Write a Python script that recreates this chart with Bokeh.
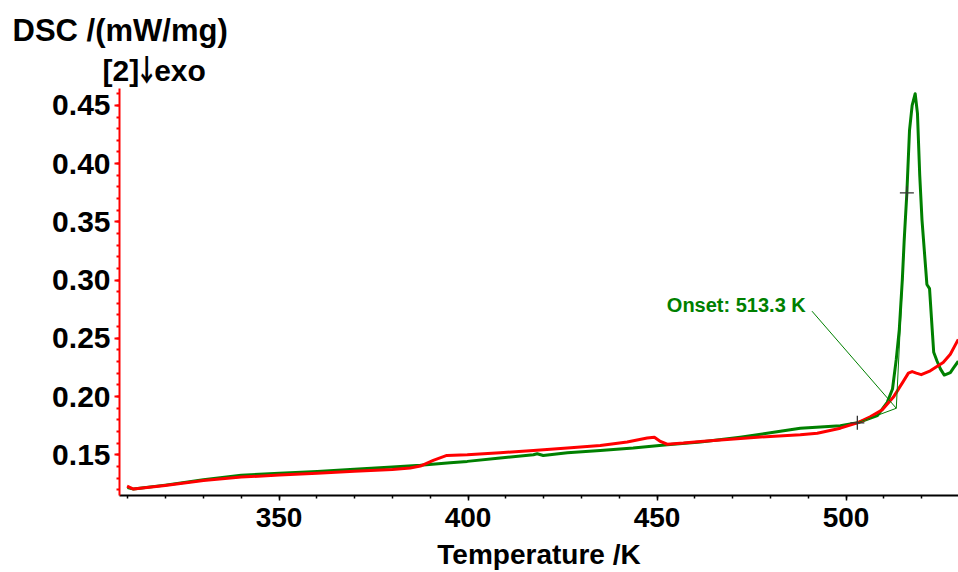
from bokeh.plotting import figure
from bokeh.models import Range1d, Label, FixedTicker, PrintfTickFormatter, Title
from bokeh.embed import file_html
from bokeh.resources import INLINE

# ---- data (Temperature / K, DSC / (mW/mg)) ----
green_T = [309.9, 311.5, 319.9, 330.0, 340.0, 350.1, 360.1, 369.9, 380.0, 387.4,
           395.3, 399.8, 408.5, 417.3, 418.3, 419.9, 426.3, 435.0, 443.7, 452.7,
           461.5, 472.0, 480.0, 487.9, 498.5, 503.0, 508.3, 510.9, 512.3, 513.3,
           514.1, 514.9, 515.4, 516.1, 516.8, 517.5, 518.3, 518.9, 519.5, 520.1,
           521.0, 521.4, 522.1, 522.8, 523.2, 524.1, 525.0, 526.0, 527.6, 528.4, 529.7]
green_dsc = [0.1218, 0.1205, 0.1239, 0.1286, 0.1323, 0.1342, 0.1357, 0.1376, 0.1395, 0.1409,
             0.1432, 0.1443, 0.1472, 0.1500, 0.1509, 0.1494, 0.1517, 0.1537, 0.1557, 0.1585,
             0.1609, 0.1651, 0.1688, 0.1728, 0.1750, 0.1774, 0.1836, 0.1950, 0.2064, 0.2321,
             0.2577, 0.3004, 0.3346, 0.3748, 0.4286, 0.4500, 0.4600, 0.4432, 0.3902, 0.3517,
             0.3132, 0.2962, 0.2927, 0.2577, 0.2380, 0.2303, 0.2235, 0.2184, 0.2205, 0.2244, 0.2303]

red_T = [309.8, 311.5, 319.9, 330.0, 340.0, 350.1, 360.1, 369.9, 380.0, 384.7,
         387.4, 390.8, 394.4, 399.8, 408.5, 417.3, 426.3, 435.0, 442.1, 447.4,
         449.3, 450.9, 452.7, 457.0, 461.5, 476.5, 487.9, 492.4, 498.5, 503.0,
         506.4, 509.6, 512.5, 515.2, 516.5, 517.5, 518.6, 519.9, 522.3, 525.7, 527.6, 529.7]
red_dsc = [0.1231, 0.1205, 0.1235, 0.1278, 0.1308, 0.1325, 0.1342, 0.1359, 0.1374, 0.1386,
           0.1403, 0.1451, 0.1494, 0.1500, 0.1517, 0.1537, 0.1557, 0.1579, 0.1609, 0.1643,
           0.1651, 0.1614, 0.1590, 0.1600, 0.1614, 0.1651, 0.1671, 0.1685, 0.1728, 0.1774,
           0.1825, 0.1887, 0.1993, 0.2132, 0.2201, 0.2214, 0.2201, 0.2188, 0.2221, 0.2292, 0.2363, 0.2491]

# onset evaluation (green curve)
onset_T = 513.3
onset_dsc = 0.1899
baseline_pt_T = 503.0
baseline_pt_dsc = 0.1774
inflection_T = 516.1
inflection_dsc = 0.3748
onset_text = "Onset: 513.3 K"
onset_text_T = 452.6
onset_text_dsc = 0.2782
leader_T = 491.0
leader_dsc = 0.2733

x_major = [350, 400, 450, 500]
x_minor = [310, 320, 330, 340, 350, 360, 370, 380, 390, 400, 410, 420, 430, 440,
           450, 460, 470, 480, 490, 500, 510, 520]
y_major = [0.15, 0.20, 0.25, 0.30, 0.35, 0.40, 0.45]
y_minor = [0.12, 0.13, 0.14, 0.15, 0.16, 0.17, 0.18, 0.19, 0.20, 0.21, 0.22, 0.23,
           0.24, 0.25, 0.26, 0.27, 0.28, 0.29, 0.30, 0.31, 0.32, 0.33, 0.34, 0.35,
           0.36, 0.37, 0.38, 0.39, 0.40, 0.41, 0.42, 0.43, 0.44, 0.45, 0.46]

GREEN = "#008000"
RED = "#ff0000"
FONT = "Liberation Sans"

p = figure(width=958, height=572, output_backend="svg", toolbar_location=None, title=None,
           x_range=Range1d(307.8, 529.76), y_range=Range1d(0.115, 0.4645),
           min_border_left=119, min_border_right=0, min_border_top=88, min_border_bottom=75)
p.background_fill_color = "white"
p.border_fill_color = "white"
p.outline_line_color = None
p.grid.visible = False

# y axis (red)
ya = p.yaxis[0]
ya.ticker = FixedTicker(ticks=y_major, minor_ticks=y_minor)
ya.formatter = PrintfTickFormatter(format="%.2f")
ya.axis_line_color = RED
ya.axis_line_width = 2
ya.major_tick_line_color = RED
ya.minor_tick_line_color = RED
ya.major_tick_line_width = 2
ya.minor_tick_line_width = 2
ya.major_tick_in = 0
ya.major_tick_out = 5
ya.minor_tick_in = 0
ya.minor_tick_out = 3
ya.major_label_standoff = 4
ya.major_label_text_font = FONT
ya.major_label_text_font_size = "30px"
ya.major_label_text_font_style = "bold"
ya.major_label_text_color = "black"

# x axis (black)
xa = p.xaxis[0]
xa.ticker = FixedTicker(ticks=x_major, minor_ticks=x_minor)
xa.axis_line_color = "black"
xa.axis_line_width = 2
xa.major_tick_line_color = "black"
xa.minor_tick_line_color = "black"
xa.major_tick_line_width = 1.5
xa.minor_tick_line_width = 1.5
xa.major_tick_in = 0
xa.major_tick_out = 5
xa.minor_tick_in = 0
xa.minor_tick_out = 3
xa.major_label_standoff = 7
xa.major_label_text_font = FONT
xa.major_label_text_font_size = "28px"
xa.major_label_text_font_style = "bold"
xa.major_label_text_color = "black"
xa.axis_label = "Temperature /K"
xa.axis_label_text_font = FONT
xa.axis_label_text_font_size = "28px"
xa.axis_label_text_font_style = "bold"
xa.axis_label_text_color = "black"
xa.axis_label_standoff = 9

# curves
p.line(green_T, green_dsc, line_color=GREEN, line_width=3, line_join="round")
p.line(red_T, red_dsc, line_color=RED, line_width=3, line_join="round")

# onset construction lines
p.line([baseline_pt_T, onset_T], [baseline_pt_dsc, onset_dsc], line_color=GREEN, line_width=1)
p.line([onset_T, inflection_T], [onset_dsc, inflection_dsc], line_color=GREEN, line_width=1)
p.line([leader_T, onset_T], [leader_dsc, onset_dsc], line_color=GREEN, line_width=1)
p.scatter([baseline_pt_T, inflection_T], [baseline_pt_dsc, inflection_dsc], marker="cross",
          size=14, line_color="#333333", line_width=1.3)

p.add_layout(Label(x=onset_text_T, y=onset_text_dsc, text=onset_text, text_color=GREEN,
                   text_font=FONT, text_font_size="20px", text_font_style="bold",
                   text_baseline="alphabetic", text_align="left"))

# y title block (top-left), stacked above the frame
t_exo = Title(text="[2]\uffecexo", align="left", offset=-17, standoff=4,
              text_font="Liberation Sans, Noto Sans CJK JP", text_font_size="30px",
              text_font_style="bold", text_color="black")
t_dsc = Title(text="DSC /(mW/mg)", align="left", offset=-107, standoff=4,
              text_font=FONT, text_font_size="31px", text_font_style="bold", text_color="black")
p.add_layout(t_exo, "above")
p.add_layout(t_dsc, "above")

open("out.html", "w").write(file_html(p, INLINE))
